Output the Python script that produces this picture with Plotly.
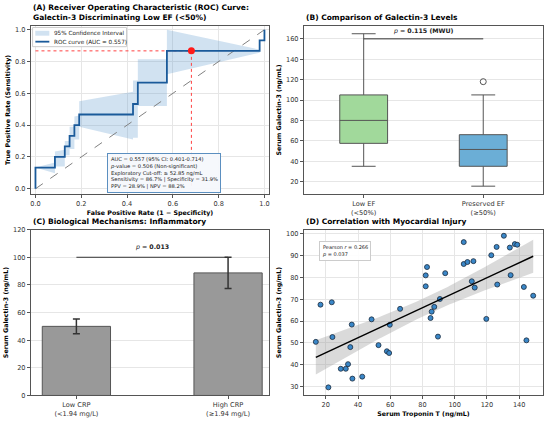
import numpy as np
import plotly.graph_objects as go

# ---- (A) ROC curve ----
roc_fpr = [0.0, 0.0, 0.085, 0.085, 0.128, 0.128, 0.149, 0.149, 0.170, 0.170, 0.191, 0.191,
           0.426, 0.426, 0.447, 0.447, 0.574, 0.574, 0.979, 0.979, 1.0, 1.0]
roc_tpr = [0.0, 0.133, 0.133, 0.2, 0.2, 0.267, 0.267, 0.333, 0.333, 0.4, 0.4, 0.467,
           0.467, 0.533, 0.533, 0.667, 0.667, 0.867, 0.867, 0.933, 0.933, 1.0]
ci_lower = [0.0, 0.133, 0.098, 0.14, 0.14, 0.21, 0.21, 0.25, 0.25, 0.31, 0.31, 0.39,
            0.31, 0.32, 0.32, 0.52, 0.52, 0.72, 0.855, 0.933, 0.933, 1.0]
ci_upper = [0.0, 0.133, 0.165, 0.235, 0.245, 0.30, 0.30, 0.39, 0.39, 0.455, 0.46, 0.55,
            0.61, 0.68, 0.68, 0.815, 0.815, 1.0, 0.875, 0.933, 0.933, 1.0]
chance = [0, 1]
cutoff_fpr = 0.681
cutoff_tpr = 0.867
roc_stats = [
    "AUC = 0.557 (95% CI: 0.401-0.714)",
    "<i>p</i>-value = 0.506 (Non-significant)",
    "Exploratory Cut-off: ≥ 52.85 ng/mL",
    "Sensitivity = 86.7% | Specificity = 31.9%",
    "PPV = 28.9% | NPV = 88.2%",
]

# ---- (B) box plot (precomputed stats) ----
ef_groups = ["Low EF<br>(<50%)", "Preserved EF<br>(≥50%)"]
ef_q1 = [57.5, 35.0]
ef_median = [80.0, 51.5]
ef_q3 = [105.0, 66.0]
ef_low = [35.0, 15.5]
ef_high = [165.0, 105.0]
ef_outlier_group = [1]
ef_outlier_value = [118.0]
ef_colors = ["#a1d99b", "#6baed6"]
ef_sig_y = 160

# ---- (C) bars ----
crp_groups = ["Low CRP<br>(<1.94 mg/L)", "High CRP<br>(≥1.94 mg/L)"]
crp_mean = [50.0, 88.7]
crp_err = [5.3, 11.3]
crp_sig_y = 100

# ---- (D) scatter ----
troponin = [13.8, 16.7, 23.7, 24.1, 21.6, 29.3, 32.4, 33.8, 35.2, 36.1, 36.5, 42.6,
            48.4, 52.7, 57.9, 59.3, 59.7, 66.1, 82.0, 82.0, 82.8, 85.0, 85.7, 87.3,
            89.6, 90.8, 94.1, 105.6, 105.6, 107.9, 111.6, 110.6, 112.4, 119.6, 122.7,
            126.0, 126.4, 130.5, 134.2, 134.7, 137.3, 138.8, 142.9, 144.5, 148.7]
galectin = [50.5, 67.5, 68.6, 52.7, 29.7, 38.2, 38.2, 40.3, 48.1, 58.4, 33.7, 34.6,
            60.8, 49.0, 46.2, 45.4, 58.3, 65.6, 75.9, 80.9, 84.7, 61.4, 64.3, 66.5,
            52.9, 70.1, 81.9, 96.1, 86.1, 87.0, 87.4, 78.2, 75.3, 61.0, 90.1,
            93.9, 76.7, 99.0, 93.6, 81.0, 95.2, 94.9, 75.6, 51.2, 71.6]

FONT = "DejaVu Sans"
FRAME = "#555555"
GRID = "#e6e6e6"
CI_FILL = "rgba(90,150,205,0.28)"
ROC_BLUE = "#1a5a9a"
W, H = 550, 423

fig = go.Figure()

# A
fig.add_trace(go.Scatter(x=roc_fpr, y=ci_lower, mode="lines", line=dict(width=0),
                         showlegend=False, hoverinfo="skip", xaxis="x", yaxis="y"))
fig.add_trace(go.Scatter(x=roc_fpr, y=ci_upper, mode="lines", line=dict(width=0),
                         fill="tonexty", fillcolor=CI_FILL, showlegend=False,
                         xaxis="x", yaxis="y"))
fig.add_trace(go.Scatter(x=chance, y=chance, mode="lines",
                         line=dict(color="#808080", width=1, dash="dash"),
                         showlegend=False, xaxis="x", yaxis="y"))
fig.add_trace(go.Scatter(x=[0, cutoff_fpr], y=[cutoff_tpr, cutoff_tpr], mode="lines",
                         line=dict(color="#ff4040", width=1, dash="dot"),
                         showlegend=False, xaxis="x", yaxis="y"))
fig.add_trace(go.Scatter(x=[cutoff_fpr, cutoff_fpr], y=[cutoff_tpr, 0], mode="lines",
                         line=dict(color="#ff4040", width=1, dash="dot"),
                         showlegend=False, xaxis="x", yaxis="y"))
fig.add_trace(go.Scatter(x=roc_fpr, y=roc_tpr, mode="lines",
                         line=dict(color=ROC_BLUE, width=1.8),
                         showlegend=False, xaxis="x", yaxis="y"))
fig.add_trace(go.Scatter(x=[cutoff_fpr], y=[cutoff_tpr], mode="markers",
                         marker=dict(color="#ff1a1a", size=7),
                         showlegend=False, xaxis="x", yaxis="y"))

# B
for i in range(len(ef_groups)):
    fig.add_trace(go.Box(x=[i], q1=[ef_q1[i]], median=[ef_median[i]], q3=[ef_q3[i]],
                         lowerfence=[ef_low[i]], upperfence=[ef_high[i]],
                         width=0.4, whiskerwidth=0.5, fillcolor=ef_colors[i],
                         line=dict(color="#555555", width=1), showlegend=False,
                         xaxis="x2", yaxis="y2"))
fig.add_trace(go.Scatter(x=ef_outlier_group, y=ef_outlier_value, mode="markers",
                         marker=dict(symbol="circle-open", size=6, color="#555555",
                                     line=dict(width=1)),
                         showlegend=False, xaxis="x2", yaxis="y2"))
fig.add_trace(go.Scatter(x=[0, 1], y=[ef_sig_y, ef_sig_y], mode="lines",
                         line=dict(color="#333333", width=1),
                         showlegend=False, xaxis="x2", yaxis="y2"))

# C
fig.add_trace(go.Bar(x=[0, 1], y=crp_mean, width=0.45,
                     marker=dict(color="#999999", line=dict(color="#555555", width=1)),
                     error_y=dict(type="data", array=crp_err, color="#333333",
                                  thickness=1.5, width=3.5),
                     showlegend=False, xaxis="x3", yaxis="y3"))
fig.add_trace(go.Scatter(x=[0, 1], y=[crp_sig_y, crp_sig_y], mode="lines",
                         line=dict(color="#333333", width=1),
                         showlegend=False, xaxis="x3", yaxis="y3"))

# D: regression with 95% CI of the mean
tx = np.array(troponin)
gy = np.array(galectin)
slope, intercept = np.polyfit(tx, gy, 1)
xs = np.linspace(tx.min(), tx.max(), 100)
fit = intercept + slope * xs
n = len(tx)
resid = gy - (intercept + slope * tx)
s = np.sqrt(np.sum(resid ** 2) / (n - 2))
se = s * np.sqrt(1 / n + (xs - tx.mean()) ** 2 / np.sum((tx - tx.mean()) ** 2))
t = 2.017
fig.add_trace(go.Scatter(x=xs, y=fit - t * se, mode="lines", line=dict(width=0),
                         showlegend=False, xaxis="x4", yaxis="y4"))
fig.add_trace(go.Scatter(x=xs, y=fit + t * se, mode="lines", line=dict(width=0),
                         fill="tonexty", fillcolor="rgba(150,150,150,0.35)",
                         showlegend=False, xaxis="x4", yaxis="y4"))
fig.add_trace(go.Scatter(x=tx, y=gy, mode="markers",
                         marker=dict(color="#3a87c8", size=5,
                                     line=dict(color="#1c2b3c", width=0.8)),
                         showlegend=False, xaxis="x4", yaxis="y4"))
fig.add_trace(go.Scatter(x=xs, y=fit, mode="lines", line=dict(color="black", width=1.5),
                         showlegend=False, xaxis="x4", yaxis="y4"))


def px_x(a, b):
    return [a / W, b / W]


def px_y(top, bottom):
    return [1 - bottom / H, 1 - top / H]


def axis(domain, rng, anchor, title=None, grid=True, **kw):
    d = dict(domain=domain, range=rng, anchor=anchor, showline=True, mirror=True,
             linecolor=FRAME, linewidth=1, showgrid=grid, gridcolor=GRID, gridwidth=0.8,
             zeroline=False, ticks="outside", ticklen=3, tickcolor=FRAME,
             tickfont=dict(size=6.6, color="#333333"))
    if title:
        d["title"] = dict(text=f"<b>{title}</b>", font=dict(size=6.3, color="black"),
                          standoff=3)
    d.update(kw)
    return d


xa = px_x(30, 269)
xb = px_x(304, 544)
ytop = px_y(22, 194)
ybot = px_y(230, 399)

fig.update_layout(
    width=W, height=H, margin=dict(l=0, r=0, t=0, b=0),
    paper_bgcolor="white", plot_bgcolor="white",
    font=dict(family=FONT, color="#222222"),
    showlegend=False,
    xaxis=axis(xa, [-0.02, 1.02], "y", "False Positive Rate (1 − Specificity)",
               tickvals=[0, 0.2, 0.4, 0.6, 0.8, 1.0], tickformat=".1f"),
    yaxis=axis(ytop, [-0.035, 1.026], "x", "True Positive Rate (Sensitivity)",
               tickvals=[0, 0.2, 0.4, 0.6, 0.8, 1.0], tickformat=".1f"),
    xaxis2=axis(xb, [-0.5, 1.5], "y2", grid=False, tickvals=[0, 1], ticktext=ef_groups),
    yaxis2=axis(ytop, [7.5, 173], "x2", "Serum Galectin-3 (ng/mL)", dtick=20),
    xaxis3=axis(xa, [-0.3, 1.27], "y3", grid=False, tickvals=[0, 1], ticktext=crp_groups),
    yaxis3=axis(ybot, [0, 120], "x3", "Serum Galectin-3 (ng/mL)", dtick=20),
    xaxis4=axis(xb, [6.4, 154.8], "y4", "Serum Troponin T (ng/mL)", dtick=20),
    yaxis4=axis(ybot, [26, 101.8], "x4", "Serum Galectin-3 (ng/mL)", dtick=10),
    boxmode="overlay",
)

# hand-drawn legend for panel A (plotly legend rows are too tall at this size)
def px(xp, yp):
    return xp / W, 1 - yp / H


lx0, ly0 = px(31.7, 24)
lx1, ly1 = px(126, 43.5)
fig.add_shape(type="rect", xref="paper", yref="paper", x0=lx0, y0=ly0, x1=lx1, y1=ly1,
              line=dict(color="#cccccc", width=1), fillcolor="rgba(255,255,255,0.85)")
px0, py0 = px(34.5, 27.3)
px1, py1 = px(48.5, 32.3)
fig.add_shape(type="rect", xref="paper", yref="paper", x0=px0, y0=py0, x1=px1, y1=py1,
              line=dict(width=0), fillcolor=CI_FILL)
qx0, qy = px(34.5, 38.4)
qx1, _ = px(48.5, 38.4)
fig.add_shape(type="line", xref="paper", yref="paper", x0=qx0, y0=qy, x1=qx1, y1=qy,
              line=dict(color=ROC_BLUE, width=1.8))
for label, yp in [("95% Confidence Interval", 29.8), ("ROC curve (AUC = 0.557)", 38.4)]:
    tx0, ty0 = px(51, yp)
    fig.add_annotation(text=label, xref="paper", yref="paper", x=tx0, y=ty0,
                       xanchor="left", yanchor="middle", showarrow=False,
                       font=dict(size=5.7, color="#222222"))

titles = [
    ("(A) Receiver Operating Characteristic (ROC) Curve:<br>Galectin-3 Discriminating Low EF (<50%)", 30, 20),
    ("(B) Comparison of Galectin-3 Levels", 304, 20),
    ("(C) Biological Mechanisms: Inflammatory", 30, 228),
    ("(D) Correlation with Myocardial Injury", 304, 228),
]
for text, x0, ybase in titles:
    fig.add_annotation(text=f"<b>{text}</b>", xref="paper", yref="paper",
                       x=x0 / W, y=1 - ybase / H, xanchor="left", yanchor="bottom",
                       align="left", showarrow=False,
                       font=dict(size=7.5, color="black"))

fig.add_annotation(text="<br>".join(roc_stats), xref="x", yref="y", x=0.312, y=0.225,
                   xanchor="left", yanchor="top", align="left", showarrow=False,
                   font=dict(size=5.2, color="#222222"), bgcolor="rgba(245,248,252,0.95)",
                   bordercolor="#5b8fc0", borderwidth=1, borderpad=2)

fig.add_annotation(text="<i>p</i> = <b>0.115 (MWU)</b>", xref="x2", yref="y2", x=0.5,
                   y=ef_sig_y + 2, yanchor="bottom", showarrow=False,
                   font=dict(size=6.3, color="#222222"))
fig.add_annotation(text="<i>p</i> = <b>0.013</b>", xref="x3", yref="y3", x=0.5,
                   y=crp_sig_y + 3, yanchor="bottom", showarrow=False,
                   font=dict(size=6.3, color="#222222"))
fig.add_annotation(text="Pearson <i>r</i> = 0.266<br><i>p</i> = 0.037", xref="x4", yref="y4",
                   x=15.5, y=96.5, xanchor="left", yanchor="top", align="left",
                   showarrow=False, font=dict(size=5, color="#222222"),
                   bgcolor="rgba(255,255,255,0.9)", bordercolor="#cccccc", borderwidth=1,
                   borderpad=2)

# the page body has a default 8px margin; drop it so the figure fills the window
fig.write_html("out.html", config={"displayModeBar": False},
               post_script="document.body.style.margin='0';")
